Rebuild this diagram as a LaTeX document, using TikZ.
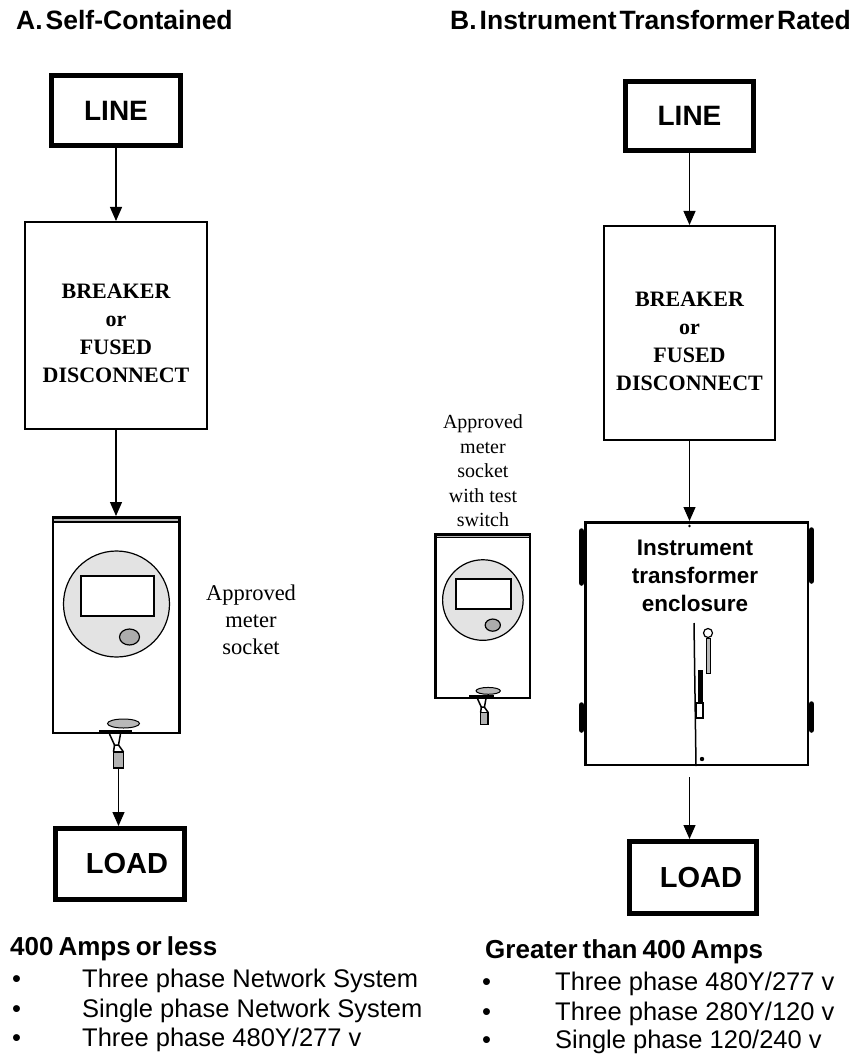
\documentclass[tikz,border=0pt]{standalone}
\usepackage{fontspec}
\setmainfont{Liberation Serif}
\setsansfont{Liberation Sans}
\usetikzlibrary{arrows.meta,calc}

\newcommand{\narrowgaps}[1]{\spaceskip=#1\relax}

\tikzset{
  heavybox/.style={draw, line width=5pt, inner sep=0pt},
  lightbox/.style={draw, line width=2pt, inner sep=0pt},
  socketbox/.style={draw, line width=2.5pt, inner sep=0pt},
  flow/.style={line width=1.2pt, -{Triangle[length=14pt,width=12pt]}},
  tagtext/.style={font=\fontsize{28}{30}\selectfont\sffamily\bfseries},
  loadtext/.style={font=\fontsize{29}{30}\selectfont\sffamily\bfseries},
  brktext/.style={align=center, font=\fontsize{22}{28}\selectfont\bfseries},
  notetext/.style={align=center, font=\fontsize{20}{25}\selectfont},
  titletext/.style={anchor=base west, inner sep=0pt, font={\fontsize{26.5}{30}\selectfont\sffamily\bfseries\narrowgaps{3pt}}},
  headtext/.style={anchor=base west, inner sep=0pt, font={\fontsize{26}{30}\selectfont\sffamily\bfseries\narrowgaps{5pt}}},
  listtext/.style={anchor=base west, inner sep=0pt, font=\fontsize{25.5}{29.5}\selectfont\sffamily},
  % meter socket drawing, local units: box is 129 x 218 around the origin
  pics/socket/.style={code={
    \fill[gray!55] (-63.25,-107.75) rectangle (63.25,-103);
    \draw[line width=1.2pt] (-63.25,-103) -- (63.25,-103);
    \draw[line width=1.2pt, fill=gray!22] (0.5,-21) circle[radius=53];
    \draw[line width=2pt, fill=white] (-35.5,-49) rectangle (37.5,-9);
    \draw[line width=1.2pt, fill=gray!65] (13.5,12) ellipse[x radius=10, y radius=8];
    % hasp and padlock
    \fill (-17.5,104.5) rectangle (15.5,108);
    \draw[line width=1pt, fill=gray!55] (7.5,98.5) ellipse[x radius=16, y radius=4.5];
    \draw[line width=1.5pt] (-6.5,109) -- (-1.5,120) -- (2.5,120) -- (4.5,109);
    \draw[line width=1.5pt] (-1.5,120) -- (-2.5,127) (2.5,120) -- (7.5,127);
    \draw[line width=1.5pt, fill=gray!60] (-2.5,127) rectangle (7.5,143);
    \coordinate (-lock) at (2.5,143);
  }}
}

\begin{document}
\begin{tikzpicture}[x=1pt, y=-1pt]
\useasboundingbox (0,0) rectangle (859,1059);

% titles
\node[titletext] (tA) at (16,30) {A. Self-Contained};
\node[titletext] (tB) at (450,30) {B. Instrument Transformer Rated};

% ---------- A: self-contained ----------
\node[heavybox, tagtext, minimum width=129pt, minimum height=70pt] (lineA) at (116,111) {LINE};
\node[lightbox, minimum width=182pt, minimum height=207pt,
      label={[brktext, yshift=-8pt]center:BREAKER\\or\\FUSED\\DISCONNECT}] (brkA) at (116,325.5) {};
\pic (pA) at (116,625) {socket};
\node[socketbox, minimum width=126.5pt, minimum height=215.5pt] (meterA) at (116,625) {};
\node[notetext, font=\fontsize{22.5}{27}\selectfont] (noteA) at (251,620) {Approved\\meter\\socket};
\node[heavybox, loadtext, minimum width=129pt, minimum height=71pt] (loadA) at (120,864) {\hspace*{14pt}LOAD};

\draw[flow] (lineA.south) -- (lineA.south |- brkA.north);
\draw[flow] (brkA.south) -- (brkA.south |- meterA.north);
\draw[flow] (pA-lock) -- (pA-lock |- loadA.north);

% ---------- B: instrument transformer rated ----------
\node[heavybox, tagtext, minimum width=128pt, minimum height=69pt] (lineB) at (689.5,116) {LINE};
\node[lightbox, minimum width=171pt, minimum height=214pt,
      label={[brktext, yshift=-8pt]center:BREAKER\\or\\FUSED\\DISCONNECT}] (brkB) at (689.5,333) {};

% enclosure hinges
\draw[line width=5.5pt, line cap=round] (581.5,531) -- (581.5,583);
\draw[line width=5.5pt, line cap=round] (581.5,705) -- (581.5,730);
\draw[line width=5.5pt, line cap=round] (811.5,530) -- (811.5,581);
\draw[line width=5.5pt, line cap=round] (811.5,704) -- (811.5,730);
\node[socketbox, minimum width=222.5pt, minimum height=242.5pt] (encl) at (696.5,643.5) {};
\node[align=center, font=\fontsize{22.5}{28}\selectfont\sffamily\bfseries] (enclT) at (695,576) {Instrument\\transformer\\enclosure};
% door seam, handle and latch
\draw[line width=1.5pt] (694,623) -- (696,766);
\draw[line width=1pt, fill=gray!55] (706,638) rectangle (710.5,673);
\draw[line width=1.2pt, fill=white] (708,633) circle[radius=4.5];
\fill (698,670) rectangle (703,702);
\draw[line width=1.2pt, fill=white] (696.5,703) rectangle (703,718);
\fill (702,759) circle[radius=2.2];

\pic[scale=0.76] (pB) at (482.5,616) {socket};
\node[socketbox, minimum width=94.5pt, minimum height=163.5pt] (meterB) at (482.5,616) {};
\node[notetext, font=\fontsize{20}{24.5}\selectfont] (noteB) at (483,471) {Approved\\meter\\socket\\with test\\switch};

\draw[line width=1pt] ($(meterB.east)+(1,56)$) -- ($(meterB.east)+(1,56)$ -| encl.west);
\draw[line width=1pt] ($(meterB.east)+(1,74)$) -- ($(meterB.east)+(1,74)$ -| encl.west);

\node[heavybox, loadtext, minimum width=127pt, minimum height=72pt] (loadB) at (693,877.5) {\hspace*{16pt}LOAD};

\draw[flow] (lineB.south) -- (lineB.south |- brkB.north);
\draw[flow] (brkB.south) -- (brkB.south |- encl.north);
\fill ($(brkB.south |- encl.north)+(0,5)$) circle[radius=1.3];
\coordinate (eo) at ($(brkB.south |- encl.south)+(0,11)$);
\draw[flow] (eo) -- (eo |- loadB.north);

% ---------- ratings ----------
\node[headtext] (hA) at (10,955) {400 Amps or less};
\node[listtext] (lA1) at (12,987) {\makebox[70pt][l]{\textbullet}Three phase Network System};
\node[listtext] (lA2) at (12,1017) {\makebox[70pt][l]{\textbullet}Single phase Network System};
\node[listtext] (lA3) at (12,1046) {\makebox[70pt][l]{\textbullet}Three phase 480Y/277 v};
\node[headtext] (hB) at (485,958) {Greater than 400 Amps};
\node[listtext] (lB1) at (482,990) {\makebox[73pt][l]{\textbullet}Three phase 480Y/277 v};
\node[listtext] (lB2) at (482,1020) {\makebox[73pt][l]{\textbullet}Three phase 280Y/120 v};
\node[listtext] (lB3) at (482,1048) {\makebox[73pt][l]{\textbullet}Single phase 120/240 v};
\end{tikzpicture}
\end{document}
